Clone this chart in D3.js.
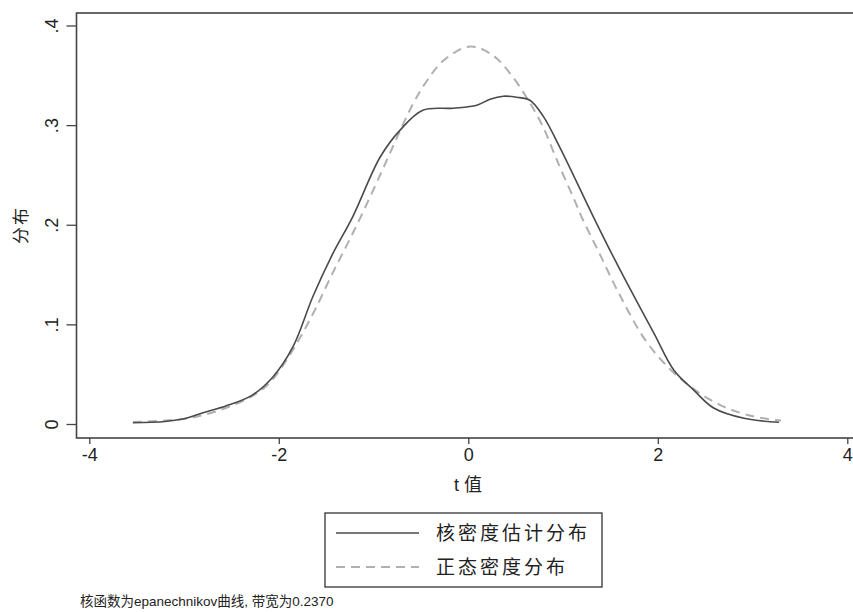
<!DOCTYPE html>
<html><head><meta charset="utf-8">
<script src="https://cdn.jsdelivr.net/npm/d3@7"></script>
<style>
body{margin:0;background:#fff;}
text{font-family:"Liberation Sans","Noto Sans CJK SC",sans-serif;fill:#222;}
</style></head>
<body><svg id="c" width="853" height="612"></svg>
<script>
// Kernel density estimate (solid)
const kdeX = [-3.54,-3.2,-2.98,-2.80,-2.56,-2.28,-2.06,-1.85,-1.64,-1.43,-1.22,-0.93,-0.72,-0.48,-0.16,0.09,0.23,0.37,0.51,0.65,0.79,0.97,1.32,1.53,1.75,1.96,2.17,2.38,2.59,2.91,3.28];
const kdeY = [0.0013,0.0025,0.0057,0.0113,0.018,0.029,0.0475,0.0776,0.128,0.171,0.208,0.268,0.295,0.315,0.317,0.320,0.326,0.329,0.328,0.325,0.309,0.277,0.208,0.168,0.128,0.091,0.054,0.034,0.016,0.0057,0.0017];
// Normal density (dashed)
const normX = [-3.54,-3.0,-2.8,-2.56,-2.28,-2.10,-1.92,-1.75,-1.60,-1.43,-1.29,-1.15,-0.93,-0.76,-0.58,-0.44,-0.26,0.02,0.26,0.44,0.62,0.79,0.90,0.97,1.11,1.20,1.38,1.59,1.87,2.13,2.38,2.66,2.95,3.23,3.30];
const normY = [0.002,0.005,0.009,0.016,0.028,0.041,0.064,0.091,0.118,0.152,0.178,0.205,0.250,0.286,0.322,0.344,0.365,0.379,0.370,0.352,0.327,0.298,0.273,0.257,0.227,0.207,0.172,0.131,0.084,0.055,0.035,0.019,0.009,0.004,0.0035];
const xTicks = [-4,-2,0,2,4];
const xTickLabels = ["-4","-2","0","2","4"];
const yTicks = [0,0.1,0.2,0.3,0.4];
const yTickLabels = ["0",".1",".2",".3",".4"];
const legendLabels = ["核密度估计分布","正态密度分布"];
const xTitle = "t 值", yTitle = "分布";
const note = "核函数为epanechnikov曲线, 带宽为0.2370";

const svg = d3.select("#c");
const x = d3.scaleLinear().domain([-4,4]).range([89.3,847.3]);
const y = d3.scaleLinear().domain([0,0.4]).range([424,25.5]);

// frame
svg.append("rect").attr("x",76.5).attr("y",13).attr("width",800).attr("height",425)
  .attr("fill","none").attr("stroke","#444").attr("stroke-width",1.6);

// x axis
const xa = svg.append("g").attr("transform","translate(0,438)")
  .call(d3.axisBottom(x).tickValues(xTicks).tickFormat((d,i)=>xTickLabels[i]).tickSize(6).tickPadding(4));
xa.select(".domain").remove();
xa.selectAll("line").attr("stroke","#444").attr("stroke-width",1.3);
xa.selectAll("text").style("font-size","18px").attr("fill","#222");

// y axis
const ya = svg.append("g").attr("transform","translate(76.5,0)")
  .call(d3.axisLeft(y).tickValues(yTicks).tickFormat((d,i)=>yTickLabels[i]).tickSize(10).tickPadding(4));
ya.select(".domain").remove();
ya.selectAll("line").attr("stroke","#444").attr("stroke-width",1.3);
ya.selectAll("text").style("font-size","18px").attr("fill","#222")
  .attr("x",null).attr("dy",null)
  .attr("text-anchor","middle")
  .attr("transform","translate(-25,0) rotate(-90)").attr("dy","0.35em");

// titles
svg.append("text").attr("x",468).attr("y",491).attr("text-anchor","middle")
  .style("font-size","18px").text(xTitle);
svg.append("text").attr("transform","translate(27,225) rotate(-90)").attr("text-anchor","middle")
  .style("font-size","17px").style("letter-spacing","2px").text(yTitle);

// curves
const normData = normX.map((d,i)=>[d,normY[i]]);
const kdeData = kdeX.map((d,i)=>[d,kdeY[i]]);
const line = d3.line().x(d=>x(d[0])).y(d=>y(d[1])).curve(d3.curveCatmullRom.alpha(0.5));
svg.append("path").attr("d",line(normData)).attr("fill","none")
  .attr("stroke","#b0b0b0").attr("stroke-width",2).attr("stroke-dasharray","9,6");
svg.append("path").attr("d",line(kdeData)).attr("fill","none")
  .attr("stroke","#4a4a4a").attr("stroke-width",1.6);

// legend
svg.append("rect").attr("x",325).attr("y",513).attr("width",277).attr("height",74)
  .attr("fill","#fff").attr("stroke","#333").attr("stroke-width",1.3);
const lg = svg.append("g");
[533,567].forEach((ly,i)=>{
  lg.append("line").attr("x1",336).attr("x2",419).attr("y1",ly).attr("y2",ly)
    .attr("stroke", i===0?"#4a4a4a":"#b0b0b0").attr("stroke-width", i===0?1.6:2)
    .attr("stroke-dasharray", i===0?null:"9,6");
  lg.append("text").attr("x",436).attr("y",ly).attr("dy","0.35em")
    .style("font-size","19px").style("letter-spacing","3px").attr("fill","#333").text(legendLabels[i]);
});

// note
svg.append("text").attr("x",80).attr("y",606).style("font-size","13.5px").attr("fill","#333").text(note);
</script></body></html>
